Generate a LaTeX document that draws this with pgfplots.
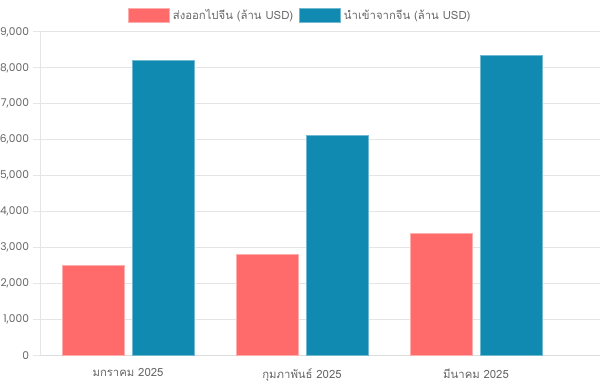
\documentclass[border=0pt]{standalone}
\usepackage{pgfplots}
\pgfplotsset{compat=1.18}
\usepackage{fontspec}
\setmainfont{Poppins}
\newfontfamily\thai[Script=Thai]{Loma}
\definecolor{cred}{HTML}{FF6B6B}
\definecolor{cblue}{HTML}{118AB2}
\definecolor{cgrid}{HTML}{E5E5E5}
\definecolor{ctxt}{HTML}{666666}
\begin{document}
\begin{tikzpicture}
\useasboundingbox (0pt,0pt) rectangle (450pt,288pt);
\clip (0pt,0pt) rectangle (450pt,288pt);
\begin{axis}[
  at={(30.75pt,21.525pt)}, anchor=south west,
  scale only axis,
  width=419.25pt, height=242.5pt,
  xmin=-0.5, xmax=2.7126,
  ymin=0, ymax=9000,
  ytick={0,1000,...,9000},
  xtick={0,1,2},
  xticklabels={{\thai มกราคม 2025},{\thai กุมภาพันธ์ 2025},{\thai มีนาคม 2025}},
  ybar=6pt, bar width=46.5pt,
  ymajorgrids, grid style={cgrid, line width=0.75pt},
  axis x line*=bottom, axis y line*=left,
  x axis line style={draw=cgrid!130, line width=0.75pt, -},
  y axis line style={draw=cgrid, line width=0.75pt, -},
  tick align=outside, major tick length=6pt,
  ytick style={draw=cgrid, line width=0.75pt},
  xtick style={draw=none},
  /pgf/number format/assume math mode=true,
  /pgf/number format/1000 sep={,},
  scaled y ticks=false,
  yticklabel style={font=\fontsize{8}{10}\selectfont, text=ctxt, xshift=0.5pt},
  xticklabel style={font=\fontsize{8.5}{10}\selectfont, text=ctxt, yshift=-0.5pt},
  legend style={at={(0.4645,1.051)}, anchor=center, draw=none, fill=none,
    legend columns=-1, font=\fontsize{8.5}{10}\selectfont\thai, text=ctxt,
    /tikz/every even column/.append style={column sep=2.5pt}},
  legend image code/.code={\draw[#1, line width=0.75pt] (0pt,-4.9pt) rectangle (30.75pt,4.9pt);},
]
\addplot[fill=cred, draw=cred!55!white, line width=0.75pt] coordinates {(0,2510) (1,2815) (2,3400)};
\addplot[fill=cblue, draw=cblue!60!white, line width=0.75pt] coordinates {(0,8200) (1,6130) (2,8340)};
\legend{ส่งออกไปจีน (ล้าน USD), นำเข้าจากจีน (ล้าน USD)}
\end{axis}
\end{tikzpicture}
\end{document}
